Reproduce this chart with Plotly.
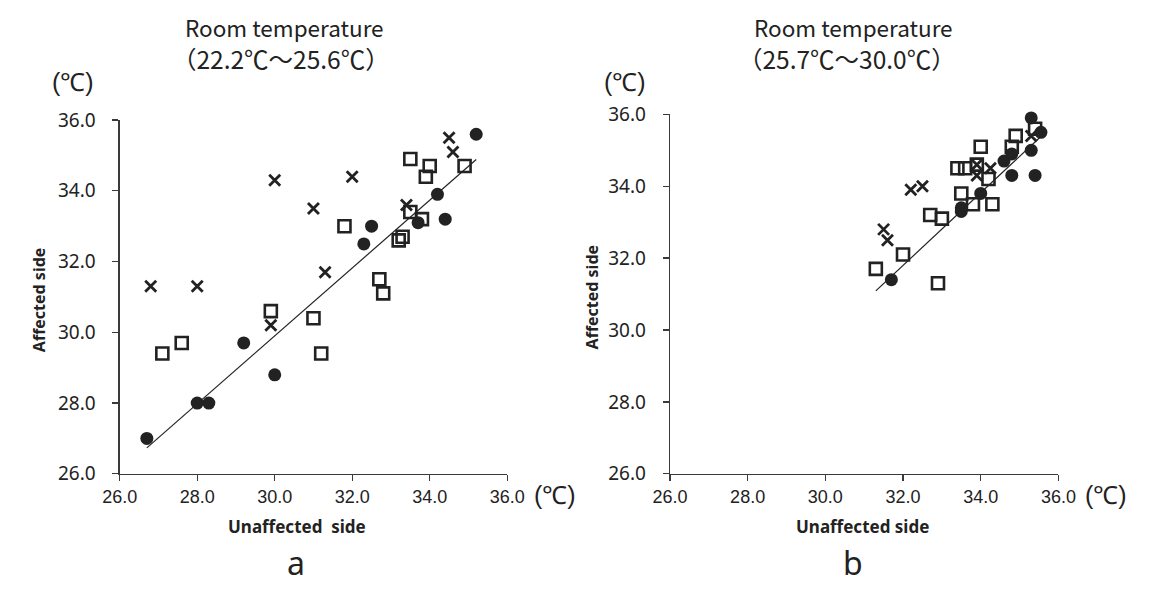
import numpy as np
import plotly.graph_objects as go

W, H = 1151, 592

# ---------------- data: panel a (22.2-25.6 C) ----------------
a_circle_x = [26.7, 28.0, 28.3, 29.2, 30.0, 32.3, 32.5, 33.7, 34.2, 34.4, 35.2]
a_circle_y = [27.0, 28.0, 28.0, 29.7, 28.8, 32.5, 33.0, 33.1, 33.9, 33.2, 35.6]
a_square_x = [27.1, 27.6, 29.9, 31.0, 31.2, 31.8, 32.7, 32.8, 33.2, 33.3, 33.5, 33.5, 33.8, 33.9, 34.0, 34.9]
a_square_y = [29.4, 29.7, 30.6, 30.4, 29.4, 33.0, 31.5, 31.1, 32.6, 32.7, 34.9, 33.4, 33.2, 34.4, 34.7, 34.7]
a_cross_x = [26.8, 28.0, 29.9, 30.0, 31.0, 31.3, 32.0, 33.4, 34.5, 34.6]
a_cross_y = [31.3, 31.3, 30.2, 34.3, 33.5, 31.7, 34.4, 33.6, 35.5, 35.1]

# ---------------- data: panel b (25.7-30.0 C) ----------------
b_circle_x = [31.7, 33.5, 33.5, 34.0, 34.6, 34.8, 34.8, 35.3, 35.4, 35.3, 35.55]
b_circle_y = [31.4, 33.4, 33.3, 33.8, 34.7, 34.9, 34.3, 35.0, 34.3, 35.9, 35.5]
b_square_x = [31.3, 32.0, 32.9, 32.7, 33.0, 33.4, 33.6, 33.9, 34.0, 34.2, 33.5, 33.8, 34.3, 34.8, 34.9, 35.4]
b_square_y = [31.7, 32.1, 31.3, 33.2, 33.1, 34.5, 34.5, 34.6, 35.1, 34.2, 33.8, 33.5, 33.5, 35.1, 35.4, 35.6]
b_cross_x = [31.5, 31.6, 32.2, 32.5, 33.9, 33.9, 34.25, 35.3]
b_cross_y = [32.8, 32.5, 33.9, 34.0, 34.6, 34.3, 34.5, 35.4]

tick_vals = [26.0, 28.0, 30.0, 32.0, 34.0, 36.0]
tick_text = ["26.0", "28.0", "30.0", "32.0", "34.0", "36.0"]

title_line1 = "Room temperature"
title_line2 = ["（22.2℃～25.6℃）", "（25.7℃～30.0℃）"]
x_titles = ["Unaffected  side", "Unaffected side"]
y_title = "Affected side"
panel_letters = ["a", "b"]
unit = "(℃)"

# ---------------- layout geometry (pixels) ----------------
panels = [
    dict(x0=105, x1=505, y0=112, y1=482, t1=275, t2=271, cu=57, xt=288, lt=287, yt=22),
    dict(x0=673, x1=1074, y0=106, y1=482, t1=862, t2=856, cu=627, xt=872, lt=862, yt=592),
]


def px(x):
    return x / W


def py(y):
    return 1 - y / H


fig = go.Figure()
INK = "#222222"
AX = "#3a3a3a"

datasets = [
    (a_circle_x, a_circle_y, a_square_x, a_square_y, a_cross_x, a_cross_y),
    (b_circle_x, b_circle_y, b_square_x, b_square_y, b_cross_x, b_cross_y),
]

for i, (cx, cy, sx, sy, xx, xy) in enumerate(datasets):
    xa = "x" if i == 0 else "x2"
    ya = "y" if i == 0 else "y2"
    # regression line (fit to filled circles, spanning all data)
    k, b = np.polyfit(cx, cy, 1)
    allx = list(cx) + list(sx) + list(xx)
    lx = np.array([min(allx), max(allx)])
    fig.add_trace(go.Scatter(x=lx, y=k * lx + b, mode="lines",
                             line=dict(color=INK, width=1.2),
                             xaxis=xa, yaxis=ya, showlegend=False, hoverinfo="skip",
                             cliponaxis=False))
    fig.add_trace(go.Scatter(x=sx, y=sy, mode="markers", cliponaxis=False,
                             marker=dict(symbol="square-open", size=12, color=INK,
                                         line=dict(width=2.6, color=INK)),
                             xaxis=xa, yaxis=ya, showlegend=False))
    fig.add_trace(go.Scatter(x=xx, y=xy, mode="markers", cliponaxis=False,
                             marker=dict(symbol="x-thin", size=11, color=INK,
                                         line=dict(width=2.8, color=INK)),
                             xaxis=xa, yaxis=ya, showlegend=False))
    fig.add_trace(go.Scatter(x=cx, y=cy, mode="markers", cliponaxis=False,
                             marker=dict(symbol="circle", size=13, color=INK,
                                         line=dict(width=0)),
                             xaxis=xa, yaxis=ya, showlegend=False))

axis_common = dict(range=[26, 36], tickvals=tick_vals, ticktext=tick_text,
                   showgrid=False, zeroline=False, showline=True, linecolor=AX,
                   linewidth=1.3, ticks="outside", ticklen=6, tickcolor=AX,
                   tickwidth=1.3, fixedrange=True)

for i, p in enumerate(panels):
    sfx = "" if i == 0 else "2"
    fig.layout["xaxis" + sfx] = dict(axis_common, domain=[px(p["x0"]), px(p["x1"])],
                                     anchor="y" + sfx,
                                     tickfont=dict(family="Liberation Sans", size=18, color=INK))
    fig.layout["yaxis" + sfx] = dict(axis_common, domain=[py(p["y1"]), py(p["y0"])],
                                     anchor="x" + sfx, ticklabelstandoff=13,
                                     tickfont=dict(family="Noto Sans", size=19, color=INK))

annotations = []
for i, p in enumerate(panels):
    annotations.append(dict(text=title_line1, x=px(p["t1"]), y=py(15), xref="paper", yref="paper",
                            showarrow=False, xanchor="center", yanchor="middle",
                            font=dict(family="Noto Sans CJK JP", size=22.5, color=INK)))
    annotations.append(dict(text=title_line2[i], x=px(p["t2"]), y=py(48), xref="paper",
                            yref="paper", showarrow=False, xanchor="center", yanchor="middle",
                            font=dict(family="Noto Sans CJK JP", size=24.5, color=INK)))
    # unit label on y axis top
    annotations.append(dict(text=unit, x=px(p["cu"]), y=py(72), xref="paper", yref="paper",
                            showarrow=False, xanchor="center", yanchor="middle",
                            font=dict(family="Liberation Sans", size=25, color=INK)))
    # unit label at end of x axis
    annotations.append(dict(text=unit, x=px(p["x1"] + 49), y=py(504), xref="paper", yref="paper",
                            showarrow=False, xanchor="center", yanchor="middle",
                            font=dict(family="Liberation Sans", size=25, color=INK)))
    # x axis title
    annotations.append(dict(text="<b>" + x_titles[i] + "</b>", x=px(p["xt"]),
                            y=py(537), xref="paper", yref="paper", showarrow=False,
                            xanchor="center", yanchor="middle",
                            font=dict(family="Noto Sans", size=17, color=INK)))
    # y axis title
    annotations.append(dict(text="<b>" + y_title + "</b>", x=px(p["yt"]),
                            y=py((p["y0"] + p["y1"]) / 2 + 3), xref="paper", yref="paper",
                            showarrow=False, textangle=-90, xanchor="center", yanchor="middle",
                            font=dict(family="Noto Sans", size=16, color=INK)))
    # panel letter
    annotations.append(dict(text=panel_letters[i], x=px(p["lt"]), y=py(575),
                            xref="paper", yref="paper", showarrow=False,
                            xanchor="center", yanchor="middle",
                            font=dict(family="Noto Sans", size=32, color=INK)))

fig.update_layout(width=W, height=H, margin=dict(l=0, r=0, t=0, b=0),
                  paper_bgcolor="white", plot_bgcolor="white", hovermode=False,
                  annotations=annotations, showlegend=False)

fig.write_html("out.html", config={"displayModeBar": False, "staticPlot": True},
               post_script="document.body.style.margin='0';document.body.style.overflow='hidden';")
